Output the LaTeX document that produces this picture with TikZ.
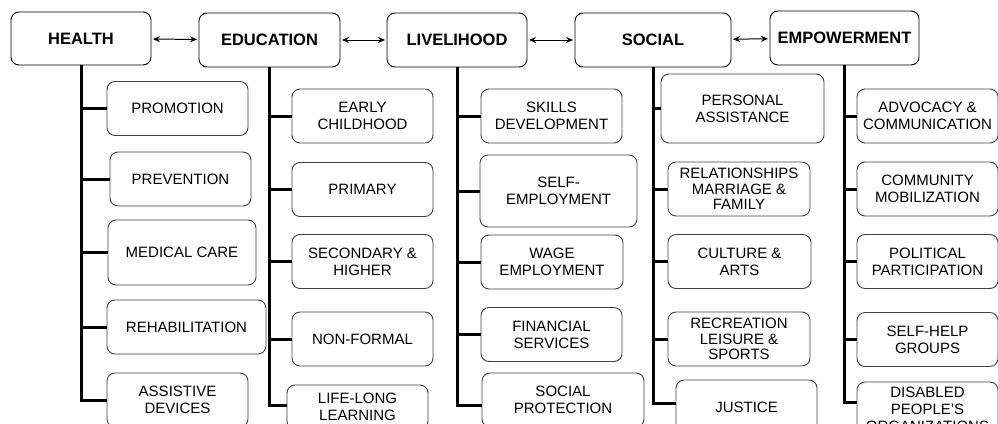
\documentclass[tikz,border=0pt]{standalone}
\usepackage{fontspec}
\setmainfont{Liberation Sans}
\usetikzlibrary{arrows.meta}

\begin{document}
\begin{tikzpicture}[x=1pt, y=-1pt, >={Stealth[length=7pt, width=6pt]}, line width=0.9pt]
    \tikzstyle{every node}=[inner sep=0pt, align=center]
    \tikzstyle{main}=[shape=rectangle, rounded corners=8pt, draw=black, minimum width=141pt, minimum height=54pt, font=\fontsize{16.5}{20}\selectfont\bfseries]
    \tikzstyle{sub}=[shape=rectangle, rounded corners=8pt, draw=black!75, minimum width=141pt, minimum height=54pt, font=\fontsize{15}{17}\selectfont]
    \tikzstyle{tight}=[font=\fontsize{15}{15.3}\selectfont]
    \tikzstyle{trunk}=[line width=3pt]

    \useasboundingbox (0,0) rectangle (998,423);

    \node[main, minimum width=140pt, minimum height=53pt]  (health) at (81, 38.5)   {HEALTH};
    \node[main]                      (edu)    at (269.5, 40)  {EDUCATION};
    \node[main, minimum width=140pt] (live)   at (457, 40)    {LIVELIHOOD};
    \node[main, minimum width=156pt] (social) at (653, 40)    {SOCIAL};
    \node[main, minimum width=149pt] (empow)  at (844.5, 38)  {EMPOWERMENT};

    %health
        \node[sub]  (h1) at (177.5, 108.5) {PROMOTION};
        \node[sub]  (h2) at (180.5, 179)   {PREVENTION};
        \node[sub, minimum width=148pt, minimum height=65pt]  (h3) at (182, 252.5) {MEDICAL CARE};
        \node[sub, minimum width=159pt]  (h4) at (186.5, 327) {REHABILITATION};
        \node[sub]  (h5) at (177.5, 400)   {ASSISTIVE\\DEVICES};

    %education
        \node[sub]  (e1) at (362.5, 116)   {EARLY\\CHILDHOOD};
        \node[sub]  (e2) at (362.5, 189.5) {PRIMARY};
        \node[sub]  (e3) at (362.5, 261.5) {SECONDARY \&\\HIGHER};
        \node[sub]  (e4) at (362.5, 339)   {NON-FORMAL};
        \node[sub, minimum height=44pt]  (e5) at (357.5, 407)   {LIFE-LONG\\LEARNING};

    %livelihood
        \node[sub]  (l1) at (551.5, 116)   {SKILLS\\DEVELOPMENT};
        \node[sub, minimum width=157pt, minimum height=72pt]  (l2) at (558.5, 191) {SELF-\\EMPLOYMENT};
        \node[sub, minimum width=142pt]  (l3) at (552, 262) {WAGE\\EMPLOYMENT};
        \node[sub]  (l4) at (551.5, 334.5) {FINANCIAL\\SERVICES};
        \node[sub, minimum width=162pt]  (l5) at (563, 400) {SOCIAL\\PROTECTION};

    %social
        \node[sub, minimum width=163pt, minimum height=69pt]  (s1) at (742.5, 108.5) {PERSONAL\\ASSISTANCE};
        \node[sub, tight, minimum width=142pt]  (s2) at (739, 189) {RELATIONSHIPS\\MARRIAGE \&\\FAMILY};
        \node[sub, minimum width=143pt]  (s3) at (739.5, 261.5) {CULTURE \&\\ARTS};
        \node[sub, tight, minimum width=142pt]  (s4) at (739, 339) {RECREATION\\LEISURE \&\\SPORTS};
        \node[sub]  (s5) at (746.5, 407)   {JUSTICE};

    %empowerment
        \node[sub]  (p1) at (927.5, 116)   {ADVOCACY \&\\COMMUNICATION};
        \node[sub]  (p2) at (927.5, 189)   {COMMUNITY\\MOBILIZATION};
        \node[sub]  (p3) at (927.5, 261.5) {POLITICAL\\PARTICIPATION};
        \node[sub]  (p4) at (927.5, 339.5) {SELF-HELP\\GROUPS};
        \node[sub]  (p5) at (927.5, 409) {DISABLED\\PEOPLE'S\\ORGANIZATIONS};

    \path[<->, line width=1pt, shorten >=1.5pt, shorten <=1.5pt]
    (health) edge (edu)
    (edu)    edge (live)
    (live)   edge (social)
    (social) edge (empow)
    ;

    \draw[trunk] (health.south) |- (h1.west);
    \draw[trunk] (health.south) |- (h2.west);
    \draw[trunk] (health.south) |- (h3.west);
    \draw[trunk] (health.south) |- (h4.west);
    \draw[trunk] (health.south) |- (h5.west);

    \draw[trunk] (edu.south) |- (e1.west);
    \draw[trunk] (edu.south) |- (e2.west);
    \draw[trunk] (edu.south) |- (e3.west);
    \draw[trunk] (edu.south) |- (e4.west);
    \draw[trunk] (edu.south) |- ([yshift=2pt]e5.west);

    \draw[trunk] (live.south) |- (l1.west);
    \draw[trunk] (live.south) |- (l2.west);
    \draw[trunk] (live.south) |- (l3.west);
    \draw[trunk] (live.south) |- (l4.west);
    \draw[trunk] (live.south) |- ([yshift=-5pt]l5.west);

    \draw[trunk] (social.south) |- (s1.west);
    \draw[trunk] (social.south) |- (s2.west);
    \draw[trunk] (social.south) |- (s3.west);
    \draw[trunk] (social.south) |- (s4.west);
    \draw[trunk] (social.south) |- ([yshift=4pt]s5.west);

    \draw[trunk] (empow.south) |- (p1.west);
    \draw[trunk] (empow.south) |- (p2.west);
    \draw[trunk] (empow.south) |- (p3.west);
    \draw[trunk] (empow.south) |- (p4.west);
    \draw[trunk] (empow.south) |- ([yshift=7pt]p5.west);

\end{tikzpicture}
\end{document}
